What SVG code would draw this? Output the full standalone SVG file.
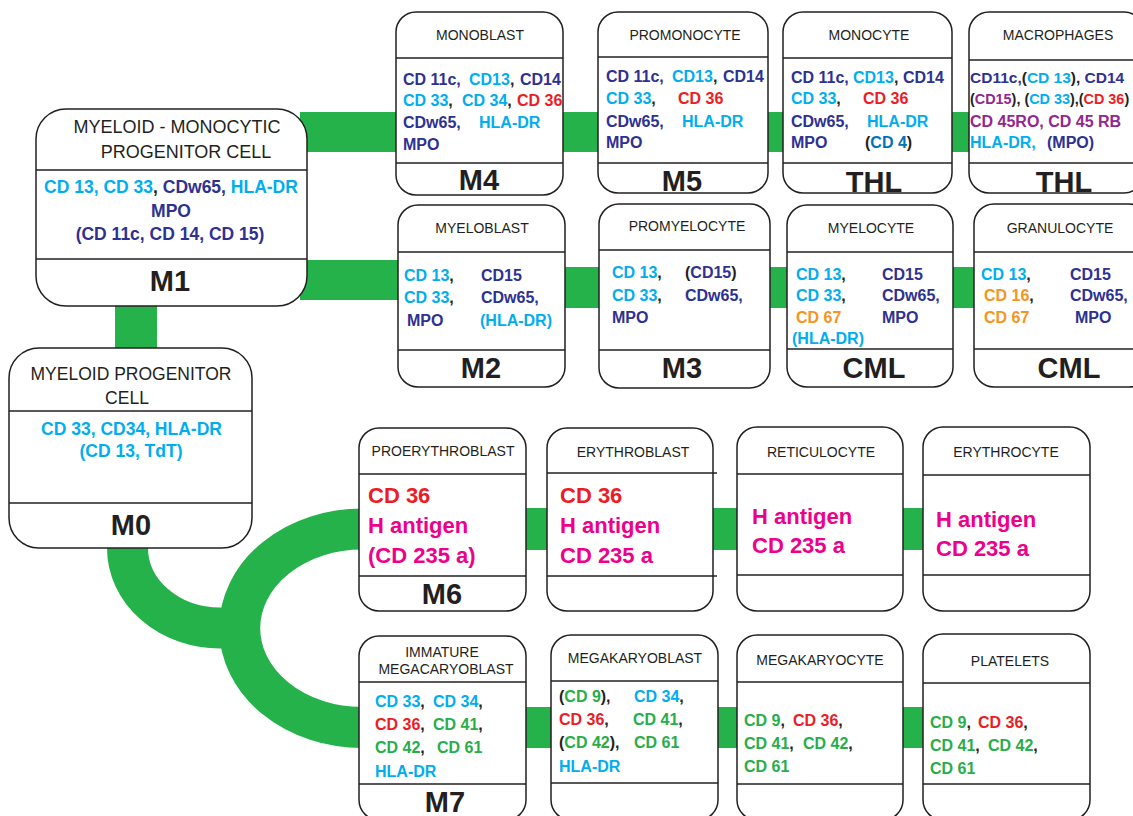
<svg xmlns="http://www.w3.org/2000/svg" width="1133" height="816" viewBox="0 0 1133 816">
<style>
.box{fill:#fff;stroke:#231f20;stroke-width:1.5}
.dv{stroke:#231f20;stroke-width:1.5;fill:none}
text{font-family:"Liberation Sans",Arial,sans-serif}
.t{font-size:14px;fill:#231f20;text-anchor:middle}
.tl{font-size:18px;fill:#231f20;text-anchor:middle}
.m{font-size:16px;font-weight:bold;fill:#231f20}
.mc{font-size:17.5px;font-weight:bold;text-anchor:middle;fill:#2e3192}
.e{font-size:22px;font-weight:bold}
.big{font-size:29px;font-weight:bold;fill:#231f20;text-anchor:middle}
.lb{fill:#00aeef}.nv{fill:#2e3192}.rd{fill:#ed1c24}.mg{fill:#ec008c}.or{fill:#f7941d}.gr{fill:#27ae4a}.pu{fill:#92278f}.bk{fill:#231f20}.mb{fill:#0072bc}
.band{fill:#25b24b}
.bandl{fill:none;stroke:#25b24b;stroke-width:41}
</style>
<g id="connectors">
<rect class="band" x="300" y="112" width="840" height="40"/>
<rect class="band" x="300" y="260" width="105" height="40"/>
<rect class="band" x="560" y="267" width="580" height="41"/>
<rect class="band" x="115" y="300" width="42" height="55"/>
<path class="bandl" d="M127.5,540 L127.5,548 A92.5,80 0 0 0 220,628 L245,628"/>
<path class="bandl" d="M362,529 A122,99 0 0 0 362,727.5"/>
<rect class="band" x="360" y="508" width="570" height="42"/>
<rect class="band" x="360" y="707" width="570" height="41"/>
</g>
<g id="m1">
<rect class="box" x="36" y="109" width="271" height="197" rx="30"/>
<line class="dv" x1="36" y1="170" x2="307" y2="170"/>
<line class="dv" x1="36" y1="259" x2="307" y2="259"/>
<text class="tl" x="177" y="133">MYELOID - MONOCYTIC</text>
<text class="tl" x="186" y="158">PROGENITOR CELL</text>
<text class="mc" x="171" y="193"><tspan class="lb">CD 13, CD 33</tspan><tspan class="bk">, </tspan><tspan class="nv">CDw65, </tspan><tspan class="lb">HLA-DR</tspan></text>
<text class="mc" x="171" y="217">MPO</text>
<text class="mc" x="170" y="240">(CD 11c, CD 14, CD 15)</text>
<text class="big" x="170" y="291">M1</text>
</g>
<g id="m0">
<rect class="box" x="9" y="348" width="243" height="200" rx="30"/>
<line class="dv" x1="9" y1="411" x2="252" y2="411"/>
<line class="dv" x1="9" y1="503" x2="252" y2="503"/>
<text class="tl" x="131" y="380" style="font-size:17.5px">MYELOID PROGENITOR</text>
<text class="tl" x="127" y="404" style="font-size:17.5px">CELL</text>
<text class="mc lb" x="131.5" y="435">CD 33, CD34, HLA-DR</text>
<text class="mc lb" x="131" y="457">(CD 13, TdT)</text>
<text class="big" x="131" y="535">M0</text>
</g>
<g id="monoblast">
<rect class="box" x="396" y="12" width="167" height="183" rx="20"/>
<line class="dv" x1="396" y1="58" x2="563" y2="58"/>
<line class="dv" x1="396" y1="163" x2="563" y2="163"/>
<text class="t" x="480" y="40">MONOBLAST</text>
<text class="m" y="85"><tspan class="nv" x="403">CD 11c,</tspan><tspan class="lb" x="469">CD13</tspan><tspan class="bk">,</tspan><tspan class="nv" x="520">CD14</tspan></text>
<text class="m" y="106"><tspan class="lb" x="403">CD 33</tspan><tspan class="bk">,</tspan><tspan class="lb" x="462">CD 34</tspan><tspan class="bk">,</tspan><tspan class="rd" x="517">CD 36</tspan></text>
<text class="m" y="128"><tspan class="nv" x="403">CDw65,</tspan><tspan class="lb" x="479">HLA-DR</tspan></text>
<text class="m nv" x="403" y="150">MPO</text>
<text class="big" x="479" y="190">M4</text>
</g>
<g id="promonocyte">
<rect class="box" x="598" y="12" width="170" height="181" rx="20"/>
<line class="dv" x1="598" y1="57" x2="768" y2="57"/>
<line class="dv" x1="598" y1="163" x2="768" y2="163"/>
<text class="t" x="685" y="40">PROMONOCYTE</text>
<text class="m" y="82"><tspan class="nv" x="606">CD 11c,</tspan><tspan class="lb" x="672">CD13</tspan><tspan class="bk">,</tspan><tspan class="nv" x="723">CD14</tspan></text>
<text class="m" y="104"><tspan class="lb" x="606">CD 33</tspan><tspan class="bk">,</tspan><tspan class="rd" x="678">CD 36</tspan></text>
<text class="m" y="127"><tspan class="nv" x="606">CDw65,</tspan><tspan class="lb" x="682">HLA-DR</tspan></text>
<text class="m nv" x="606" y="148">MPO</text>
<text class="big" x="682" y="191">M5</text>
</g>
<g id="monocyte">
<rect class="box" x="783" y="12" width="169" height="181" rx="20"/>
<line class="dv" x1="783" y1="58" x2="952" y2="58"/>
<line class="dv" x1="783" y1="163" x2="952" y2="163"/>
<text class="t" x="869" y="40">MONOCYTE</text>
<text class="m" y="83"><tspan class="nv" x="791">CD 11c,</tspan><tspan class="lb" x="853">CD13</tspan><tspan class="bk">,</tspan><tspan class="nv" x="903">CD14</tspan></text>
<text class="m" y="104"><tspan class="lb" x="791">CD 33</tspan><tspan class="bk">,</tspan><tspan class="rd" x="863">CD 36</tspan></text>
<text class="m" y="127"><tspan class="nv" x="791">CDw65,</tspan><tspan class="lb" x="867">HLA-DR</tspan></text>
<text class="m" y="148"><tspan class="nv" x="791">MPO</tspan><tspan class="bk" x="865">(</tspan><tspan class="mb">CD 4</tspan><tspan class="bk">)</tspan></text>
<text class="big" x="874" y="192">THL</text>
</g>
<g id="macrophages">
<rect class="box" x="969" y="12" width="175" height="181" rx="20"/>
<line class="dv" x1="969" y1="60" x2="1144" y2="60"/>
<line class="dv" x1="969" y1="163" x2="1144" y2="163"/>
<text class="t" x="1058" y="40">MACROPHAGES</text>
<text class="m" x="970" y="83" style="font-size:15.5px"><tspan class="nv">CD11c,</tspan><tspan class="bk">(</tspan><tspan class="lb">CD 13</tspan><tspan class="bk">), </tspan><tspan class="nv">CD14</tspan></text>
<text class="m" x="970" y="104" style="font-size:14.4px"><tspan class="bk">(</tspan><tspan class="pu">CD15</tspan><tspan class="bk">), (</tspan><tspan class="lb">CD 33</tspan><tspan class="bk">),(</tspan><tspan class="rd">CD 36</tspan><tspan class="bk">)</tspan></text>
<text class="m pu" x="970" y="127">CD 45RO, CD 45 RB</text>
<text class="m" y="148"><tspan class="lb" x="970">HLA-DR,</tspan><tspan class="nv" x="1047">(MPO)</tspan></text>
<text class="big" x="1064" y="192">THL</text>
</g>
<g id="myeloblast">
<rect class="box" x="398" y="205" width="167" height="182" rx="20"/>
<line class="dv" x1="398" y1="252" x2="565" y2="252"/>
<line class="dv" x1="398" y1="350" x2="565" y2="350"/>
<text class="t" x="482" y="233">MYELOBLAST</text>
<text class="m" y="281"><tspan class="lb" x="404">CD 13</tspan><tspan class="bk">,</tspan><tspan class="nv" x="481">CD15</tspan></text>
<text class="m" y="303"><tspan class="lb" x="404">CD 33</tspan><tspan class="bk">,</tspan><tspan class="nv" x="481">CDw65,</tspan></text>
<text class="m" y="326"><tspan class="nv" x="407">MPO</tspan><tspan class="lb" x="480">(HLA-DR)</tspan></text>
<text class="big" x="481" y="378">M2</text>
</g>
<g id="promyelocyte">
<rect class="box" x="599" y="204" width="171" height="184" rx="20"/>
<line class="dv" x1="599" y1="250" x2="770" y2="250"/>
<line class="dv" x1="599" y1="350" x2="770" y2="350"/>
<text class="t" x="687" y="231">PROMYELOCYTE</text>
<text class="m" y="278"><tspan class="lb" x="612">CD 13</tspan><tspan class="bk">,</tspan><tspan class="bk" x="685">(</tspan><tspan class="nv">CD15</tspan><tspan class="bk">)</tspan></text>
<text class="m" y="301"><tspan class="lb" x="612">CD 33</tspan><tspan class="bk">,</tspan><tspan class="nv" x="685">CDw65,</tspan></text>
<text class="m nv" x="612" y="323">MPO</text>
<text class="big" x="682" y="378">M3</text>
</g>
<g id="myelocyte">
<rect class="box" x="787" y="205" width="166" height="182" rx="20"/>
<line class="dv" x1="787" y1="252" x2="953" y2="252"/>
<line class="dv" x1="787" y1="349" x2="953" y2="349"/>
<text class="t" x="871" y="233">MYELOCYTE</text>
<text class="m" y="280"><tspan class="lb" x="796">CD 13</tspan><tspan class="bk">,</tspan><tspan class="nv" x="882">CD15</tspan></text>
<text class="m" y="301"><tspan class="lb" x="796">CD 33</tspan><tspan class="bk">,</tspan><tspan class="nv" x="882">CDw65,</tspan></text>
<text class="m" y="323"><tspan class="or" x="796">CD 67</tspan><tspan class="nv" x="882">MPO</tspan></text>
<text class="m lb" x="792" y="344">(HLA-DR)</text>
<text class="big" x="874" y="378">CML</text>
</g>
<g id="granulocyte">
<rect class="box" x="974" y="204" width="175" height="183" rx="20"/>
<line class="dv" x1="974" y1="252" x2="1149" y2="252"/>
<line class="dv" x1="974" y1="349" x2="1149" y2="349"/>
<text class="t" x="1060" y="233">GRANULOCYTE</text>
<text class="m" y="280"><tspan class="lb" x="981">CD 13</tspan><tspan class="bk">,</tspan><tspan class="nv" x="1070">CD15</tspan></text>
<text class="m" y="301"><tspan class="or" x="984">CD 16</tspan><tspan class="bk">,</tspan><tspan class="nv" x="1070">CDw65,</tspan></text>
<text class="m" y="323"><tspan class="or" x="984">CD 67</tspan><tspan class="nv" x="1075">MPO</tspan></text>
<text class="big" x="1069" y="378">CML</text>
</g>
<g id="proerythroblast">
<rect class="box" x="359" y="428" width="167" height="183" rx="20"/>
<line class="dv" x1="359" y1="474" x2="526" y2="474"/>
<line class="dv" x1="359" y1="576" x2="526" y2="576"/>
<text class="t" x="443" y="456">PROERYTHROBLAST</text>
<text class="e rd" x="368" y="503">CD 36</text>
<text class="e mg" x="368" y="533">H antigen</text>
<text class="e mg" x="368" y="563">(CD 235 a)</text>
<text class="big" x="442" y="604">M6</text>
</g>
<g id="erythroblast">
<rect class="box" x="547" y="428" width="166" height="183" rx="20"/>
<line class="dv" x1="547" y1="473" x2="717" y2="473"/>
<line class="dv" x1="547" y1="576" x2="717" y2="576"/>
<text class="t" x="633" y="457">ERYTHROBLAST</text>
<text class="e rd" x="560" y="503">CD 36</text>
<text class="e mg" x="560" y="533">H antigen</text>
<text class="e mg" x="560" y="563">CD 235 a</text>
</g>
<g id="reticulocyte">
<rect class="box" x="737" y="427" width="166" height="184" rx="20"/>
<line class="dv" x1="737" y1="474" x2="903" y2="474"/>
<line class="dv" x1="737" y1="575" x2="903" y2="575"/>
<text class="t" x="821" y="457">RETICULOCYTE</text>
<text class="e mg" x="752" y="524">H antigen</text>
<text class="e mg" x="752" y="553">CD 235 a</text>
</g>
<g id="erythrocyte">
<rect class="box" x="923" y="427" width="167" height="184" rx="20"/>
<line class="dv" x1="923" y1="475" x2="1090" y2="475"/>
<line class="dv" x1="923" y1="575" x2="1090" y2="575"/>
<text class="t" x="1006" y="457">ERYTHROCYTE</text>
<text class="e mg" x="936" y="527">H antigen</text>
<text class="e mg" x="936" y="556">CD 235 a</text>
</g>
<g id="immature-megacaryoblast">
<rect class="box" x="359" y="636" width="167" height="184" rx="20"/>
<line class="dv" x1="359" y1="682" x2="526" y2="682"/>
<line class="dv" x1="359" y1="784" x2="526" y2="784"/>
<text class="t" x="442" y="657">IMMATURE</text>
<text class="t" x="446" y="674">MEGACARYOBLAST</text>
<text class="m" y="707"><tspan class="lb" x="375">CD 33</tspan><tspan class="bk">,</tspan><tspan class="lb" x="433">CD 34</tspan><tspan class="bk">,</tspan></text>
<text class="m" y="730"><tspan class="rd" x="375">CD 36</tspan><tspan class="bk">,</tspan><tspan class="gr" x="433">CD 41</tspan><tspan class="bk">,</tspan></text>
<text class="m" y="753"><tspan class="gr" x="375">CD 42</tspan><tspan class="bk">,</tspan><tspan class="gr" x="437">CD 61</tspan></text>
<text class="m lb" x="375" y="777">HLA-DR</text>
<text class="big" x="445" y="812">M7</text>
</g>
<g id="megakaryoblast">
<rect class="box" x="551" y="635" width="167" height="185" rx="20"/>
<line class="dv" x1="551" y1="681" x2="718" y2="681"/>
<line class="dv" x1="551" y1="783" x2="718" y2="783"/>
<text class="t" x="635" y="663">MEGAKARYOBLAST</text>
<text class="m" y="702"><tspan class="bk" x="559">(</tspan><tspan class="gr">CD 9</tspan><tspan class="bk">),</tspan><tspan class="lb" x="634">CD 34</tspan><tspan class="bk">,</tspan></text>
<text class="m" y="725"><tspan class="rd" x="559">CD 36</tspan><tspan class="bk">,</tspan><tspan class="gr" x="633">CD 41</tspan><tspan class="bk">,</tspan></text>
<text class="m" y="748"><tspan class="bk" x="559">(</tspan><tspan class="gr">CD 42</tspan><tspan class="bk">),</tspan><tspan class="gr" x="634">CD 61</tspan></text>
<text class="m lb" x="559" y="772">HLA-DR</text>
</g>
<g id="megakaryocyte">
<rect class="box" x="737" y="635" width="166" height="185" rx="20"/>
<line class="dv" x1="737" y1="682" x2="903" y2="682"/>
<line class="dv" x1="737" y1="784" x2="903" y2="784"/>
<text class="t" x="820" y="665">MEGAKARYOCYTE</text>
<text class="m" y="726"><tspan class="gr" x="744">CD 9</tspan><tspan class="bk">,</tspan><tspan class="rd" x="793">CD 36</tspan><tspan class="bk">,</tspan></text>
<text class="m" y="749"><tspan class="gr" x="744">CD 41</tspan><tspan class="bk">,</tspan><tspan class="gr" x="803">CD 42</tspan><tspan class="bk">,</tspan></text>
<text class="m gr" x="744" y="772">CD 61</text>
</g>
<g id="platelets">
<rect class="box" x="923" y="634" width="167" height="186" rx="20"/>
<line class="dv" x1="923" y1="683" x2="1090" y2="683"/>
<line class="dv" x1="923" y1="784" x2="1090" y2="784"/>
<text class="t" x="1010" y="666">PLATELETS</text>
<text class="m" y="728"><tspan class="gr" x="930">CD 9</tspan><tspan class="bk">,</tspan><tspan class="rd" x="978">CD 36</tspan><tspan class="bk">,</tspan></text>
<text class="m" y="751"><tspan class="gr" x="930">CD 41</tspan><tspan class="bk">,</tspan><tspan class="gr" x="988">CD 42</tspan><tspan class="bk">,</tspan></text>
<text class="m gr" x="930" y="774">CD 61</text>
</g>
</svg>
